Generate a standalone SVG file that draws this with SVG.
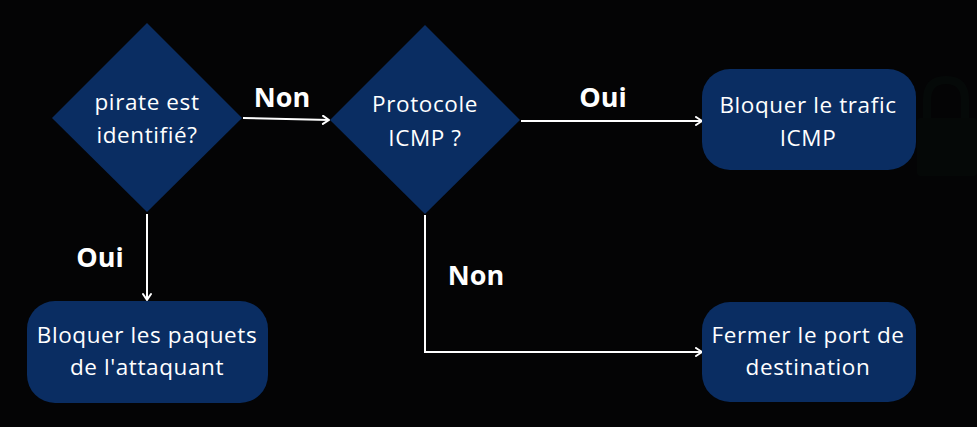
<svg xmlns="http://www.w3.org/2000/svg" width="977" height="427" viewBox="0 0 977 427">
  <defs>
    <style>
      .shape { fill: #0a2d62; }
      .node-text { font-family: "Open Sans", "Noto Sans", sans-serif; font-size: 22.5px; letter-spacing: 0.6px; fill: #ffffff; text-anchor: middle; }
      .label { font-family: "Open Sans", "Noto Sans", sans-serif; font-size: 27px; font-weight: bold; fill: #ffffff; text-anchor: middle; }
      .conn { fill: none; stroke: #ffffff; stroke-width: 2; }
    </style>
    <marker id="arrow" viewBox="0 0 10 10" refX="9" refY="5" markerWidth="10" markerHeight="10" markerUnits="userSpaceOnUse" orient="auto">
      <path d="M3,1 L9,5 L3,9" fill="none" stroke="#ffffff" stroke-width="2" stroke-linecap="round" stroke-linejoin="round"/>
    </marker>
  </defs>
  <rect x="0" y="0" width="977" height="427" fill="#040405"/>
  <g id="bg-lock" opacity="0.18">
    <path d="M927,118 L927,100 Q927,80 946,80 Q965,80 965,100 L965,118" fill="none" stroke="#0d2218" stroke-width="8"/>
    <rect x="917" y="118" width="60" height="58" rx="4" fill="#0b1d14"/>
  </g>

  <g id="connectors">
    <path class="conn" d="M243,118 L329,120" marker-end="url(#arrow)"/>
    <path class="conn" d="M521,121 L702,121" marker-end="url(#arrow)"/>
    <path class="conn" d="M147,214 L147,300" marker-end="url(#arrow)"/>
    <path class="conn" d="M425,215 L425,352 L702,352" marker-end="url(#arrow)"/>
    <text class="label" x="282" y="107">Non</text>
    <text class="label" x="603" y="107">Oui</text>
    <text class="label" x="100" y="267">Oui</text>
    <text class="label" x="476" y="285">Non</text>
  </g>

  <g id="decision-pirate">
    <polygon class="shape" points="147,23 242,118 147,212 52,118"/>
    <text class="node-text" x="147" y="110">pirate est</text>
    <text class="node-text" x="147" y="143">identifié?</text>
  </g>

  <g id="decision-icmp">
    <polygon class="shape" points="425,25 520,120 425,214 330,120"/>
    <text class="node-text" x="425" y="112">Protocole</text>
    <text class="node-text" x="425" y="146">ICMP ?</text>
  </g>

  <g id="block-icmp">
    <rect class="shape" x="702" y="69" width="214" height="101" rx="28"/>
    <text class="node-text" x="808" y="113">Bloquer le trafic</text>
    <text class="node-text" x="808" y="146">ICMP</text>
  </g>

  <g id="block-packets">
    <rect class="shape" x="27" y="301" width="241" height="102" rx="28"/>
    <text class="node-text" x="147" y="343">Bloquer les paquets</text>
    <text class="node-text" x="147" y="375">de l'attaquant</text>
  </g>

  <g id="close-port">
    <rect class="shape" x="702" y="302" width="214" height="100" rx="28"/>
    <text class="node-text" x="808" y="343">Fermer le port de</text>
    <text class="node-text" x="808" y="375">destination</text>
  </g>
</svg>
